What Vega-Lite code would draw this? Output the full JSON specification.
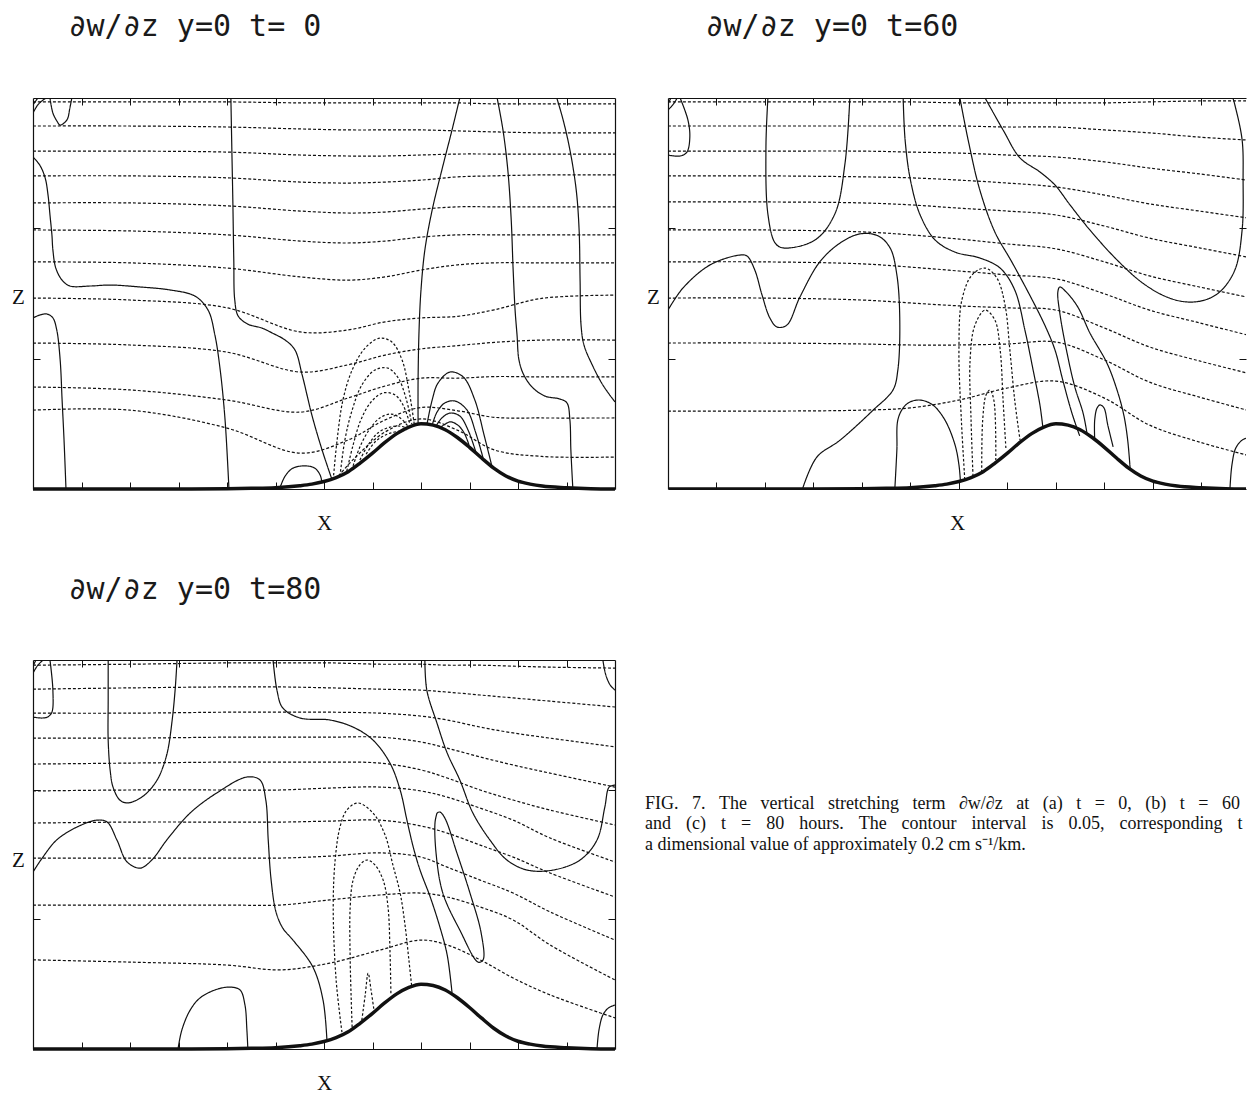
{
"$schema": "https://vega.github.io/schema/vega-lite/v6.json",
"background": "white",
"padding": {"left": 11, "top": 11, "right": 0, "bottom": 0},
"columns": 2,
"bounds": "flush",
"spacing": {"row": 171, "column": 53},
"config": {"view": {"stroke": null}, "axis": {"grid": false, "labels": false, "domainColor": "#111", "tickColor": "#111", "domainWidth": 1.2, "tickWidth": 1}},
"datasets": {
"mtn": [{"x":0,"z":0},{"x":1,"z":0},{"x":2,"z":0},{"x":3,"z":0},{"x":4,"z":0.01},{"x":4.5,"z":0.02},{"x":5,"z":0.04},{"x":5.5,"z":0.1},{"x":5.75,"z":0.15},{"x":6,"z":0.23},{"x":6.25,"z":0.35},{"x":6.5,"z":0.53},{"x":6.75,"z":0.8},{"x":7,"z":1.1},{"x":7.25,"z":1.42},{"x":7.5,"z":1.7},{"x":7.75,"z":1.9},{"x":8,"z":2.0},{"x":8.25,"z":1.96},{"x":8.5,"z":1.82},{"x":8.75,"z":1.58},{"x":9,"z":1.28},{"x":9.25,"z":0.95},{"x":9.5,"z":0.64},{"x":9.75,"z":0.4},{"x":10,"z":0.24},{"x":10.25,"z":0.15},{"x":10.5,"z":0.09},{"x":11,"z":0.04},{"x":11.5,"z":0.01},{"x":12,"z":0}],
"cap": [{"line":1,"text":"\u2003FIG.\u2002\u20057.\u2002\u2005The\u2002\u2005vertical\u2002\u2005stretching\u2002\u2005term\u2002\u2005∂w/∂z\u2002\u2005at\u2002\u2005(a)\u2002\u2005t\u2002\u2005=\u2002\u20050,\u2002\u2005(b)\u2002\u2005t\u2002\u2005=\u2002\u200560"},{"line":2,"text":"and\u2002\u2004(c)\u2002\u2004t\u2002\u2004=\u2002\u200480\u2002\u2004hours.\u2002\u2004The\u2002\u2004contour\u2002\u2004interval\u2002\u2004is\u2002\u20040.05,\u2002\u2004corresponding\u2002\u2004to"},{"line":3,"text":"a dimensional value of approximately 0.2 cm s⁻¹/km."}],
"a": [
{"g":"i1","k":"i","x":0,"z":11.88},{"g":"i1","k":"i","x":2,"z":11.88},{"g":"i1","k":"i","x":4,"z":11.88},{"g":"i1","k":"i","x":5.51,"z":11.85},{"g":"i1","k":"i","x":6.49,"z":11.85},{"g":"i1","k":"i","x":7.26,"z":11.85},{"g":"i1","k":"i","x":8,"z":11.85},{"g":"i1","k":"i","x":8.76,"z":11.85},{"g":"i1","k":"i","x":9.51,"z":11.82},{"g":"i1","k":"i","x":10.49,"z":11.82},{"g":"i1","k":"i","x":12,"z":11.82},
{"g":"i2","k":"i","x":0,"z":11.14},{"g":"i2","k":"i","x":2,"z":11.14},{"g":"i2","k":"i","x":4,"z":11.11},{"g":"i2","k":"i","x":5.51,"z":11.05},{"g":"i2","k":"i","x":6.49,"z":11.02},{"g":"i2","k":"i","x":7.26,"z":11.02},{"g":"i2","k":"i","x":8,"z":11.02},{"g":"i2","k":"i","x":8.76,"z":10.99},{"g":"i2","k":"i","x":9.51,"z":10.96},{"g":"i2","k":"i","x":10.49,"z":10.93},{"g":"i2","k":"i","x":12,"z":10.93},
{"g":"i3","k":"i","x":0,"z":10.37},{"g":"i3","k":"i","x":2,"z":10.37},{"g":"i3","k":"i","x":4,"z":10.34},{"g":"i3","k":"i","x":5.51,"z":10.25},{"g":"i3","k":"i","x":6.49,"z":10.22},{"g":"i3","k":"i","x":7.26,"z":10.22},{"g":"i3","k":"i","x":8,"z":10.25},{"g":"i3","k":"i","x":8.76,"z":10.28},{"g":"i3","k":"i","x":9.51,"z":10.28},{"g":"i3","k":"i","x":10.49,"z":10.28},{"g":"i3","k":"i","x":12,"z":10.28},
{"g":"i4","k":"i","x":0,"z":9.61},{"g":"i4","k":"i","x":2,"z":9.61},{"g":"i4","k":"i","x":4,"z":9.55},{"g":"i4","k":"i","x":5.51,"z":9.42},{"g":"i4","k":"i","x":6.49,"z":9.39},{"g":"i4","k":"i","x":7.26,"z":9.42},{"g":"i4","k":"i","x":8,"z":9.48},{"g":"i4","k":"i","x":8.76,"z":9.58},{"g":"i4","k":"i","x":9.51,"z":9.61},{"g":"i4","k":"i","x":10.49,"z":9.64},{"g":"i4","k":"i","x":12,"z":9.64},
{"g":"i5","k":"i","x":0,"z":8.78},{"g":"i5","k":"i","x":2,"z":8.78},{"g":"i5","k":"i","x":4,"z":8.69},{"g":"i5","k":"i","x":5.51,"z":8.53},{"g":"i5","k":"i","x":6.49,"z":8.47},{"g":"i5","k":"i","x":7.26,"z":8.5},{"g":"i5","k":"i","x":8,"z":8.59},{"g":"i5","k":"i","x":8.76,"z":8.66},{"g":"i5","k":"i","x":9.51,"z":8.66},{"g":"i5","k":"i","x":10.49,"z":8.66},{"g":"i5","k":"i","x":12,"z":8.66},
{"g":"i6","k":"i","x":0,"z":7.95},{"g":"i6","k":"i","x":2,"z":7.92},{"g":"i6","k":"i","x":4,"z":7.8},{"g":"i6","k":"i","x":5.51,"z":7.61},{"g":"i6","k":"i","x":6.49,"z":7.55},{"g":"i6","k":"i","x":7.26,"z":7.61},{"g":"i6","k":"i","x":8,"z":7.73},{"g":"i6","k":"i","x":8.76,"z":7.8},{"g":"i6","k":"i","x":9.51,"z":7.8},{"g":"i6","k":"i","x":10.49,"z":7.8},{"g":"i6","k":"i","x":12,"z":7.8},
{"g":"i7","k":"i","x":0,"z":6.97},{"g":"i7","k":"i","x":2,"z":6.94},{"g":"i7","k":"i","x":4,"z":6.78},{"g":"i7","k":"i","x":5.51,"z":6.51},{"g":"i7","k":"i","x":6.49,"z":6.41},{"g":"i7","k":"i","x":7.26,"z":6.51},{"g":"i7","k":"i","x":8,"z":6.72},{"g":"i7","k":"i","x":8.76,"z":6.88},{"g":"i7","k":"i","x":9.51,"z":6.94},{"g":"i7","k":"i","x":10.49,"z":6.94},{"g":"i7","k":"i","x":12,"z":6.94},
{"g":"i8","k":"i","x":0,"z":5.86},{"g":"i8","k":"i","x":2,"z":5.8},{"g":"i8","k":"i","x":4,"z":5.56},{"g":"i8","k":"i","x":5.51,"z":4.82},{"g":"i8","k":"i","x":6.49,"z":4.88},{"g":"i8","k":"i","x":7.26,"z":5.13},{"g":"i8","k":"i","x":8,"z":5.25},{"g":"i8","k":"i","x":8.76,"z":5.3},{"g":"i8","k":"i","x":9.51,"z":5.5},{"g":"i8","k":"i","x":10.49,"z":5.85},{"g":"i8","k":"i","x":12,"z":5.95},
{"g":"i9","k":"i","x":0,"z":4.48},{"g":"i9","k":"i","x":2,"z":4.42},{"g":"i9","k":"i","x":4,"z":4.2},{"g":"i9","k":"i","x":5.51,"z":3.59},{"g":"i9","k":"i","x":6.49,"z":3.81},{"g":"i9","k":"i","x":7.26,"z":4.11},{"g":"i9","k":"i","x":8,"z":4.3},{"g":"i9","k":"i","x":8.76,"z":4.4},{"g":"i9","k":"i","x":9.51,"z":4.5},{"g":"i9","k":"i","x":10.49,"z":4.57},{"g":"i9","k":"i","x":12,"z":4.57},
{"g":"i10","k":"i","x":0,"z":3.13},{"g":"i10","k":"i","x":2,"z":3.04},{"g":"i10","k":"i","x":4,"z":2.73},{"g":"i10","k":"i","x":5.51,"z":2.36},{"g":"i10","k":"i","x":6.49,"z":2.79},{"g":"i10","k":"i","x":7.26,"z":3.16},{"g":"i10","k":"i","x":8,"z":3.4},{"g":"i10","k":"i","x":8.76,"z":3.4},{"g":"i10","k":"i","x":9.51,"z":3.45},{"g":"i10","k":"i","x":10.49,"z":3.44},{"g":"i10","k":"i","x":12,"z":3.44},
{"g":"i11","k":"i","x":0,"z":2.42},{"g":"i11","k":"i","x":2,"z":2.42},{"g":"i11","k":"i","x":4,"z":1.87},{"g":"i11","k":"i","x":5.51,"z":1.1},{"g":"i11","k":"i","x":6.49,"z":1.5},{"g":"i11","k":"i","x":7.26,"z":2.12},{"g":"i11","k":"i","x":8,"z":2.5},{"g":"i11","k":"i","x":8.76,"z":2.4},{"g":"i11","k":"i","x":9.51,"z":2.2},{"g":"i11","k":"i","x":10.49,"z":2.18},{"g":"i11","k":"i","x":12,"z":2.18},
{"g":"i12","k":"i","x":6.3,"z":0.4},{"g":"i12","k":"i","x":6.6,"z":0.9},{"g":"i12","k":"i","x":7.26,"z":1.75},{"g":"i12","k":"i","x":8,"z":2.15},{"g":"i12","k":"i","x":8.76,"z":1.8},{"g":"i12","k":"i","x":9.51,"z":1.2},{"g":"i12","k":"i","x":10.49,"z":1.0},{"g":"i12","k":"i","x":12,"z":0.98},
{"g":"s1","k":"s","x":0,"z":11.79},{"g":"s1","k":"s","x":0.1,"z":12},
{"g":"s2","k":"s","x":0,"z":11.54},{"g":"s2","k":"s","x":0.1,"z":11.79},{"g":"s2","k":"s","x":0.21,"z":11.94},{"g":"s2","k":"s","x":0.27,"z":12},
{"g":"s3","k":"s","x":0.35,"z":12},{"g":"s3","k":"s","x":0.41,"z":11.54},{"g":"s3","k":"s","x":0.49,"z":11.3},{"g":"s3","k":"s","x":0.56,"z":11.17},{"g":"s3","k":"s","x":0.7,"z":11.33},{"g":"s3","k":"s","x":0.76,"z":11.69},{"g":"s3","k":"s","x":0.8,"z":12},
{"g":"s4","k":"s","x":0,"z":10.19},{"g":"s4","k":"s","x":0.14,"z":9.94},{"g":"s4","k":"s","x":0.25,"z":9.55},{"g":"s4","k":"s","x":0.31,"z":9.02},{"g":"s4","k":"s","x":0.35,"z":8.41},{"g":"s4","k":"s","x":0.39,"z":7.8},{"g":"s4","k":"s","x":0.41,"z":7.34},{"g":"s4","k":"s","x":0.47,"z":6.78},{"g":"s4","k":"s","x":0.6,"z":6.41},{"g":"s4","k":"s","x":0.76,"z":6.23},{"g":"s4","k":"s","x":1.18,"z":6.23},{"g":"s4","k":"s","x":1.59,"z":6.26},{"g":"s4","k":"s","x":2.21,"z":6.2},{"g":"s4","k":"s","x":2.82,"z":6.11},{"g":"s4","k":"s","x":3.34,"z":5.92},{"g":"s4","k":"s","x":3.61,"z":5.49},{"g":"s4","k":"s","x":3.75,"z":4.73},{"g":"s4","k":"s","x":3.86,"z":3.65},{"g":"s4","k":"s","x":3.96,"z":2.12},{"g":"s4","k":"s","x":4.04,"z":0},
{"g":"s5","k":"s","x":4.08,"z":12},{"g":"s5","k":"s","x":4.1,"z":10.41},{"g":"s5","k":"s","x":4.12,"z":8.87},{"g":"s5","k":"s","x":4.14,"z":7.03},{"g":"s5","k":"s","x":4.16,"z":5.8},{"g":"s5","k":"s","x":4.23,"z":5.31},{"g":"s5","k":"s","x":4.43,"z":5.06},{"g":"s5","k":"s","x":4.72,"z":4.94},{"g":"s5","k":"s","x":4.93,"z":4.79},{"g":"s5","k":"s","x":5.2,"z":4.57},{"g":"s5","k":"s","x":5.4,"z":4.27},{"g":"s5","k":"s","x":5.55,"z":3.5},{"g":"s5","k":"s","x":5.75,"z":2.27},{"g":"s5","k":"s","x":5.96,"z":1.2},{"g":"s5","k":"s","x":6.16,"z":0.31},
{"g":"s6","k":"s","x":0,"z":5.25},{"g":"s6","k":"s","x":0.14,"z":5.34},{"g":"s6","k":"s","x":0.29,"z":5.37},{"g":"s6","k":"s","x":0.41,"z":5.25},{"g":"s6","k":"s","x":0.49,"z":4.88},{"g":"s6","k":"s","x":0.56,"z":3.96},{"g":"s6","k":"s","x":0.6,"z":2.73},{"g":"s6","k":"s","x":0.64,"z":1.5},{"g":"s6","k":"s","x":0.68,"z":0},
{"g":"s7","k":"s","x":5.09,"z":0.03},{"g":"s7","k":"s","x":5.2,"z":0.4},{"g":"s7","k":"s","x":5.36,"z":0.64},{"g":"s7","k":"s","x":5.61,"z":0.71},{"g":"s7","k":"s","x":5.81,"z":0.64},{"g":"s7","k":"s","x":5.92,"z":0.43},{"g":"s7","k":"s","x":5.96,"z":0.18},
{"g":"s8","k":"s","x":8.8,"z":12},{"g":"s8","k":"s","x":8.64,"z":11.02},{"g":"s8","k":"s","x":8.43,"z":9.79},{"g":"s8","k":"s","x":8.23,"z":8.56},{"g":"s8","k":"s","x":8.08,"z":7.34},{"g":"s8","k":"s","x":8.0,"z":6.11},{"g":"s8","k":"s","x":7.96,"z":4.88},{"g":"s8","k":"s","x":7.94,"z":3.35},{"g":"s8","k":"s","x":7.94,"z":2.0},
{"g":"s9","k":"s","x":9.57,"z":12},{"g":"s9","k":"s","x":9.69,"z":11.02},{"g":"s9","k":"s","x":9.79,"z":9.79},{"g":"s9","k":"s","x":9.86,"z":8.26},{"g":"s9","k":"s","x":9.9,"z":6.72},{"g":"s9","k":"s","x":9.94,"z":5.49},{"g":"s9","k":"s","x":9.98,"z":4.73},{"g":"s9","k":"s","x":10.02,"z":3.96},{"g":"s9","k":"s","x":10.12,"z":3.5},{"g":"s9","k":"s","x":10.31,"z":3.1},{"g":"s9","k":"s","x":10.56,"z":2.85},{"g":"s9","k":"s","x":10.87,"z":2.76},{"g":"s9","k":"s","x":11.01,"z":2.64},{"g":"s9","k":"s","x":11.07,"z":2.12},{"g":"s9","k":"s","x":11.09,"z":1.2},{"g":"s9","k":"s","x":11.13,"z":0.03},
{"g":"s10","k":"s","x":10.8,"z":12},{"g":"s10","k":"s","x":10.93,"z":11.33},{"g":"s10","k":"s","x":11.07,"z":10.41},{"g":"s10","k":"s","x":11.2,"z":9.18},{"g":"s10","k":"s","x":11.26,"z":7.95},{"g":"s10","k":"s","x":11.28,"z":6.41},{"g":"s10","k":"s","x":11.3,"z":5.03},{"g":"s10","k":"s","x":11.36,"z":4.42},{"g":"s10","k":"s","x":11.53,"z":3.81},{"g":"s10","k":"s","x":11.75,"z":3.19},{"g":"s10","k":"s","x":12,"z":2.67},
{"g":"l1","k":"s","x":8.12,"z":1.96},{"g":"l1","k":"s","x":8.23,"z":2.73},{"g":"l1","k":"s","x":8.35,"z":3.25},{"g":"l1","k":"s","x":8.6,"z":3.59},{"g":"l1","k":"s","x":8.87,"z":3.44},{"g":"l1","k":"s","x":9.11,"z":2.73},{"g":"l1","k":"s","x":9.3,"z":1.66},{"g":"l1","k":"s","x":9.46,"z":0.71},
{"g":"l2","k":"s","x":8.23,"z":1.96},{"g":"l2","k":"s","x":8.33,"z":2.36},{"g":"l2","k":"s","x":8.49,"z":2.64},{"g":"l2","k":"s","x":8.7,"z":2.7},{"g":"l2","k":"s","x":8.95,"z":2.42},{"g":"l2","k":"s","x":9.13,"z":1.72},{"g":"l2","k":"s","x":9.28,"z":0.95},
{"g":"l3","k":"s","x":8.31,"z":1.93},{"g":"l3","k":"s","x":8.43,"z":2.18},{"g":"l3","k":"s","x":8.6,"z":2.33},{"g":"l3","k":"s","x":8.8,"z":2.24},{"g":"l3","k":"s","x":8.97,"z":1.81},{"g":"l3","k":"s","x":9.13,"z":1.14},
{"g":"l4","k":"s","x":8.41,"z":1.9},{"g":"l4","k":"s","x":8.6,"z":2.06},{"g":"l4","k":"s","x":8.76,"z":1.96},{"g":"l4","k":"s","x":8.89,"z":1.72},{"g":"l4","k":"s","x":8.99,"z":1.35},
{"g":"d1","k":"d","x":6.19,"z":0.28},{"g":"d1","k":"d","x":6.27,"z":1.5},{"g":"d1","k":"d","x":6.39,"z":2.73},{"g":"d1","k":"d","x":6.58,"z":3.65},{"g":"d1","k":"d","x":6.85,"z":4.33},{"g":"d1","k":"d","x":7.15,"z":4.63},{"g":"d1","k":"d","x":7.4,"z":4.51},{"g":"d1","k":"d","x":7.61,"z":3.96},{"g":"d1","k":"d","x":7.75,"z":3.04},{"g":"d1","k":"d","x":7.86,"z":2.0},
{"g":"d2","k":"d","x":6.33,"z":0.4},{"g":"d2","k":"d","x":6.43,"z":1.5},{"g":"d2","k":"d","x":6.58,"z":2.42},{"g":"d2","k":"d","x":6.78,"z":3.19},{"g":"d2","k":"d","x":7.05,"z":3.65},{"g":"d2","k":"d","x":7.32,"z":3.71},{"g":"d2","k":"d","x":7.53,"z":3.41},{"g":"d2","k":"d","x":7.69,"z":2.79},{"g":"d2","k":"d","x":7.81,"z":2.0},
{"g":"d3","k":"d","x":6.47,"z":0.55},{"g":"d3","k":"d","x":6.6,"z":1.35},{"g":"d3","k":"d","x":6.76,"z":2.12},{"g":"d3","k":"d","x":6.97,"z":2.67},{"g":"d3","k":"d","x":7.22,"z":2.95},{"g":"d3","k":"d","x":7.46,"z":2.89},{"g":"d3","k":"d","x":7.63,"z":2.58},{"g":"d3","k":"d","x":7.77,"z":2.0},
{"g":"d4","k":"d","x":6.6,"z":0.71},{"g":"d4","k":"d","x":6.74,"z":1.29},{"g":"d4","k":"d","x":6.93,"z":1.81},{"g":"d4","k":"d","x":7.15,"z":2.18},{"g":"d4","k":"d","x":7.38,"z":2.3},{"g":"d4","k":"d","x":7.57,"z":2.18},{"g":"d4","k":"d","x":7.73,"z":1.93},
{"g":"d5","k":"d","x":6.74,"z":0.89},{"g":"d5","k":"d","x":6.91,"z":1.35},{"g":"d5","k":"d","x":7.11,"z":1.72},{"g":"d5","k":"d","x":7.36,"z":1.9},{"g":"d5","k":"d","x":7.57,"z":1.93},{"g":"d5","k":"d","x":7.71,"z":1.87},
{"g":"d6","k":"d","x":6.87,"z":1.07},{"g":"d6","k":"d","x":7.07,"z":1.47},{"g":"d6","k":"d","x":7.32,"z":1.69},{"g":"d6","k":"d","x":7.57,"z":1.78},{"g":"d6","k":"d","x":7.71,"z":1.81}
],
"b": [
{"g":"i1","k":"i","x":0,"z":11.88},{"g":"i1","k":"i","x":2,"z":11.88},{"g":"i1","k":"i","x":4,"z":11.88},{"g":"i1","k":"i","x":5,"z":11.88},{"g":"i1","k":"i","x":6,"z":11.85},{"g":"i1","k":"i","x":7,"z":11.85},{"g":"i1","k":"i","x":8,"z":11.85},{"g":"i1","k":"i","x":9,"z":11.85},{"g":"i1","k":"i","x":9.93,"z":11.88},{"g":"i1","k":"i","x":10.96,"z":11.91},{"g":"i1","k":"i","x":11.94,"z":11.91},
{"g":"i2","k":"i","x":0,"z":11.14},{"g":"i2","k":"i","x":2,"z":11.14},{"g":"i2","k":"i","x":4,"z":11.14},{"g":"i2","k":"i","x":5,"z":11.14},{"g":"i2","k":"i","x":6,"z":11.14},{"g":"i2","k":"i","x":7,"z":11.11},{"g":"i2","k":"i","x":8,"z":11.11},{"g":"i2","k":"i","x":9,"z":11.02},{"g":"i2","k":"i","x":9.93,"z":10.93},{"g":"i2","k":"i","x":10.96,"z":10.8},{"g":"i2","k":"i","x":11.94,"z":10.71},
{"g":"i3","k":"i","x":0,"z":10.37},{"g":"i3","k":"i","x":2,"z":10.37},{"g":"i3","k":"i","x":4,"z":10.37},{"g":"i3","k":"i","x":5,"z":10.34},{"g":"i3","k":"i","x":6,"z":10.31},{"g":"i3","k":"i","x":7,"z":10.25},{"g":"i3","k":"i","x":8,"z":10.19},{"g":"i3","k":"i","x":9,"z":10.04},{"g":"i3","k":"i","x":9.93,"z":9.85},{"g":"i3","k":"i","x":10.96,"z":9.67},{"g":"i3","k":"i","x":11.94,"z":9.48},
{"g":"i4","k":"i","x":0,"z":9.61},{"g":"i4","k":"i","x":2,"z":9.61},{"g":"i4","k":"i","x":4,"z":9.58},{"g":"i4","k":"i","x":5,"z":9.55},{"g":"i4","k":"i","x":6,"z":9.48},{"g":"i4","k":"i","x":7,"z":9.39},{"g":"i4","k":"i","x":8,"z":9.27},{"g":"i4","k":"i","x":9,"z":9.02},{"g":"i4","k":"i","x":9.93,"z":8.75},{"g":"i4","k":"i","x":10.96,"z":8.53},{"g":"i4","k":"i","x":11.94,"z":8.32},
{"g":"i5","k":"i","x":0,"z":8.81},{"g":"i5","k":"i","x":2,"z":8.81},{"g":"i5","k":"i","x":4,"z":8.78},{"g":"i5","k":"i","x":5,"z":8.72},{"g":"i5","k":"i","x":6,"z":8.62},{"g":"i5","k":"i","x":7,"z":8.53},{"g":"i5","k":"i","x":8,"z":8.41},{"g":"i5","k":"i","x":9,"z":8.07},{"g":"i5","k":"i","x":9.93,"z":7.7},{"g":"i5","k":"i","x":10.96,"z":7.4},{"g":"i5","k":"i","x":11.94,"z":7.12},
{"g":"i6","k":"i","x":0,"z":7.95},{"g":"i6","k":"i","x":2,"z":7.95},{"g":"i6","k":"i","x":4,"z":7.89},{"g":"i6","k":"i","x":5,"z":7.8},{"g":"i6","k":"i","x":6,"z":7.67},{"g":"i6","k":"i","x":7,"z":7.52},{"g":"i6","k":"i","x":8,"z":7.37},{"g":"i6","k":"i","x":9,"z":6.97},{"g":"i6","k":"i","x":9.93,"z":6.54},{"g":"i6","k":"i","x":10.96,"z":6.2},{"g":"i6","k":"i","x":11.94,"z":5.89},
{"g":"i7","k":"i","x":0,"z":6.97},{"g":"i7","k":"i","x":2,"z":6.97},{"g":"i7","k":"i","x":4,"z":6.91},{"g":"i7","k":"i","x":5,"z":6.81},{"g":"i7","k":"i","x":6,"z":6.69},{"g":"i7","k":"i","x":7,"z":6.57},{"g":"i7","k":"i","x":8,"z":6.45},{"g":"i7","k":"i","x":9,"z":5.99},{"g":"i7","k":"i","x":9.93,"z":5.49},{"g":"i7","k":"i","x":10.96,"z":5.1},{"g":"i7","k":"i","x":11.94,"z":4.73},
{"g":"i8","k":"i","x":0,"z":5.86},{"g":"i8","k":"i","x":2,"z":5.86},{"g":"i8","k":"i","x":4,"z":5.8},{"g":"i8","k":"i","x":5,"z":5.71},{"g":"i8","k":"i","x":6,"z":5.62},{"g":"i8","k":"i","x":7,"z":5.56},{"g":"i8","k":"i","x":8,"z":5.49},{"g":"i8","k":"i","x":9,"z":4.94},{"g":"i8","k":"i","x":9.93,"z":4.36},{"g":"i8","k":"i","x":10.96,"z":3.93},{"g":"i8","k":"i","x":11.94,"z":3.56},
{"g":"i9","k":"i","x":0,"z":4.48},{"g":"i9","k":"i","x":2,"z":4.48},{"g":"i9","k":"i","x":4,"z":4.45},{"g":"i9","k":"i","x":5,"z":4.42},{"g":"i9","k":"i","x":6,"z":4.42},{"g":"i9","k":"i","x":7,"z":4.45},{"g":"i9","k":"i","x":8,"z":4.51},{"g":"i9","k":"i","x":9,"z":3.96},{"g":"i9","k":"i","x":9.93,"z":3.28},{"g":"i9","k":"i","x":10.96,"z":2.82},{"g":"i9","k":"i","x":11.94,"z":2.42},
{"g":"i10","k":"i","x":0,"z":2.39},{"g":"i10","k":"i","x":2,"z":2.39},{"g":"i10","k":"i","x":4,"z":2.42},{"g":"i10","k":"i","x":5,"z":2.49},{"g":"i10","k":"i","x":6,"z":2.73},{"g":"i10","k":"i","x":7,"z":3.1},{"g":"i10","k":"i","x":8,"z":3.31},{"g":"i10","k":"i","x":9,"z":2.79},{"g":"i10","k":"i","x":9.93,"z":1.96},{"g":"i10","k":"i","x":10.96,"z":1.44},{"g":"i10","k":"i","x":11.94,"z":1.04},
{"g":"c1","k":"s","x":0,"z":11.82},{"g":"c1","k":"s","x":0.06,"z":12},
{"g":"c2","k":"s","x":0,"z":11.63},{"g":"c2","k":"s","x":0.1,"z":11.79},{"g":"c2","k":"s","x":0.19,"z":12},
{"g":"c3","k":"s","x":0.25,"z":12},{"g":"c3","k":"s","x":0.41,"z":11.33},{"g":"c3","k":"s","x":0.45,"z":10.8},{"g":"c3","k":"s","x":0.39,"z":10.34},{"g":"c3","k":"s","x":0.25,"z":10.22},{"g":"c3","k":"s","x":0,"z":10.25},
{"g":"c4","k":"s","x":2.06,"z":12},{"g":"c4","k":"s","x":2.02,"z":10.5},{"g":"c4","k":"s","x":2.06,"z":8.44},{"g":"c4","k":"s","x":2.21,"z":7.55},{"g":"c4","k":"s","x":2.37,"z":7.4},{"g":"c4","k":"s","x":3.03,"z":7.64},{"g":"c4","k":"s","x":3.44,"z":8.44},{"g":"c4","k":"s","x":3.65,"z":9.99},{"g":"c4","k":"s","x":3.75,"z":12},
{"g":"c5","k":"s","x":0,"z":5.49},{"g":"c5","k":"s","x":0.31,"z":6.17},{"g":"c5","k":"s","x":0.87,"z":6.88},{"g":"c5","k":"s","x":1.48,"z":7.18},{"g":"c5","k":"s","x":1.63,"z":7.15},{"g":"c5","k":"s","x":1.79,"z":6.72},{"g":"c5","k":"s","x":1.94,"z":5.95},{"g":"c5","k":"s","x":2.1,"z":5.25},{"g":"c5","k":"s","x":2.25,"z":4.97},{"g":"c5","k":"s","x":2.45,"z":5.03},{"g":"c5","k":"s","x":2.72,"z":5.89},{"g":"c5","k":"s","x":3.13,"z":6.97},{"g":"c5","k":"s","x":3.55,"z":7.55},{"g":"c5","k":"s","x":3.96,"z":7.83},{"g":"c5","k":"s","x":4.33,"z":7.77},{"g":"c5","k":"s","x":4.58,"z":7.4},{"g":"c5","k":"s","x":4.72,"z":6.57},{"g":"c5","k":"s","x":4.78,"z":5.19},{"g":"c5","k":"s","x":4.74,"z":3.65},{"g":"c5","k":"s","x":4.64,"z":3.04},{"g":"c5","k":"s","x":4.23,"z":2.42},{"g":"c5","k":"s","x":3.55,"z":1.5},{"g":"c5","k":"s","x":3.07,"z":0.98},{"g":"c5","k":"s","x":2.78,"z":0.03},
{"g":"c6","k":"s","x":4.68,"z":0.06},{"g":"c6","k":"s","x":4.72,"z":1.2},{"g":"c6","k":"s","x":4.74,"z":2.12},{"g":"c6","k":"s","x":4.85,"z":2.49},{"g":"c6","k":"s","x":4.99,"z":2.67},{"g":"c6","k":"s","x":5.2,"z":2.73},{"g":"c6","k":"s","x":5.46,"z":2.58},{"g":"c6","k":"s","x":5.71,"z":2.12},{"g":"c6","k":"s","x":5.92,"z":1.35},{"g":"c6","k":"s","x":6.0,"z":0.74},{"g":"c6","k":"s","x":6.03,"z":0.25},
{"g":"c7","k":"s","x":4.85,"z":12},{"g":"c7","k":"s","x":4.89,"z":10.71},{"g":"c7","k":"s","x":5.0,"z":9.48},{"g":"c7","k":"s","x":5.2,"z":8.41},{"g":"c7","k":"s","x":5.51,"z":7.64},{"g":"c7","k":"s","x":5.92,"z":7.27},{"g":"c7","k":"s","x":6.43,"z":7.09},{"g":"c7","k":"s","x":6.85,"z":6.78},{"g":"c7","k":"s","x":7.15,"z":6.11},{"g":"c7","k":"s","x":7.36,"z":4.88},{"g":"c7","k":"s","x":7.53,"z":3.65},{"g":"c7","k":"s","x":7.67,"z":2.58},{"g":"c7","k":"s","x":7.73,"z":1.9},
{"g":"c8","k":"s","x":6.02,"z":12},{"g":"c8","k":"s","x":6.19,"z":10.71},{"g":"c8","k":"s","x":6.43,"z":9.18},{"g":"c8","k":"s","x":6.74,"z":7.89},{"g":"c8","k":"s","x":7.09,"z":6.97},{"g":"c8","k":"s","x":7.46,"z":5.95},{"g":"c8","k":"s","x":7.77,"z":5.03},{"g":"c8","k":"s","x":7.98,"z":4.27},{"g":"c8","k":"s","x":8.14,"z":3.35},{"g":"c8","k":"s","x":8.33,"z":2.33},{"g":"c8","k":"s","x":8.49,"z":1.63},
{"g":"c9","k":"s","x":8.64,"z":1.72},{"g":"c9","k":"s","x":8.56,"z":2.33},{"g":"c9","k":"s","x":8.39,"z":3.13},{"g":"c9","k":"s","x":8.23,"z":4.17},{"g":"c9","k":"s","x":8.08,"z":5.4},{"g":"c9","k":"s","x":8.04,"z":6.05},{"g":"c9","k":"s","x":8.08,"z":6.2},{"g":"c9","k":"s","x":8.21,"z":6.05},{"g":"c9","k":"s","x":8.45,"z":5.59},{"g":"c9","k":"s","x":8.7,"z":4.79},{"g":"c9","k":"s","x":9.05,"z":3.87},{"g":"c9","k":"s","x":9.26,"z":3.04},{"g":"c9","k":"s","x":9.4,"z":2.27},{"g":"c9","k":"s","x":9.48,"z":1.5},{"g":"c9","k":"s","x":9.53,"z":0.64},
{"g":"c10","k":"s","x":8.8,"z":1.5},{"g":"c10","k":"s","x":8.8,"z":2.12},{"g":"c10","k":"s","x":8.85,"z":2.49},{"g":"c10","k":"s","x":8.91,"z":2.58},{"g":"c10","k":"s","x":8.99,"z":2.49},{"g":"c10","k":"s","x":9.07,"z":1.96},{"g":"c10","k":"s","x":9.18,"z":1.29},
{"g":"c11","k":"s","x":6.54,"z":12},{"g":"c11","k":"s","x":6.91,"z":11.02},{"g":"c11","k":"s","x":7.26,"z":10.16},{"g":"c11","k":"s","x":7.67,"z":9.73},{"g":"c11","k":"s","x":7.98,"z":9.33},{"g":"c11","k":"s","x":8.29,"z":8.72},{"g":"c11","k":"s","x":8.7,"z":7.95},{"g":"c11","k":"s","x":9.26,"z":7.03},{"g":"c11","k":"s","x":9.79,"z":6.32},{"g":"c11","k":"s","x":10.29,"z":5.89},{"g":"c11","k":"s","x":10.7,"z":5.74},{"g":"c11","k":"s","x":11.07,"z":5.8},{"g":"c11","k":"s","x":11.38,"z":6.05},{"g":"c11","k":"s","x":11.69,"z":6.72},{"g":"c11","k":"s","x":11.84,"z":7.95},{"g":"c11","k":"s","x":11.86,"z":9.48},{"g":"c11","k":"s","x":11.84,"z":10.71},{"g":"c11","k":"s","x":11.69,"z":11.79},{"g":"c11","k":"s","x":11.65,"z":12},
{"g":"c12","k":"s","x":11.59,"z":0.03},{"g":"c12","k":"s","x":11.63,"z":0.74},{"g":"c12","k":"s","x":11.71,"z":1.26},{"g":"c12","k":"s","x":11.84,"z":1.5},{"g":"c12","k":"s","x":11.94,"z":1.57},
{"g":"e1","k":"d","x":6.12,"z":0.3},{"g":"e1","k":"d","x":6.05,"z":2.12},{"g":"e1","k":"d","x":6.0,"z":4.27},{"g":"e1","k":"d","x":6.06,"z":5.8},{"g":"e1","k":"d","x":6.27,"z":6.57},{"g":"e1","k":"d","x":6.54,"z":6.78},{"g":"e1","k":"d","x":6.78,"z":6.48},{"g":"e1","k":"d","x":6.95,"z":5.65},{"g":"e1","k":"d","x":7.05,"z":4.27},{"g":"e1","k":"d","x":7.15,"z":2.73},{"g":"e1","k":"d","x":7.26,"z":1.5},
{"g":"e2","k":"d","x":6.29,"z":0.4},{"g":"e2","k":"d","x":6.25,"z":2.12},{"g":"e2","k":"d","x":6.23,"z":3.96},{"g":"e2","k":"d","x":6.33,"z":5.03},{"g":"e2","k":"d","x":6.54,"z":5.49},{"g":"e2","k":"d","x":6.74,"z":5.19},{"g":"e2","k":"d","x":6.85,"z":4.27},{"g":"e2","k":"d","x":6.91,"z":2.73},{"g":"e2","k":"d","x":6.97,"z":1.2},
{"g":"e3","k":"d","x":6.47,"z":0.52},{"g":"e3","k":"d","x":6.49,"z":2.12},{"g":"e3","k":"d","x":6.56,"z":2.89},{"g":"e3","k":"d","x":6.64,"z":3.04},{"g":"e3","k":"d","x":6.72,"z":2.73},{"g":"e3","k":"d","x":6.76,"z":0.89}
],
"c": [
{"g":"i1","k":"i","x":0,"z":11.84},{"g":"i1","k":"i","x":2,"z":11.87},{"g":"i1","k":"i","x":4,"z":11.91},{"g":"i1","k":"i","x":5.09,"z":11.91},{"g":"i1","k":"i","x":6.12,"z":11.91},{"g":"i1","k":"i","x":7.15,"z":11.87},{"g":"i1","k":"i","x":8,"z":11.87},{"g":"i1","k":"i","x":8.54,"z":11.84},{"g":"i1","k":"i","x":9.22,"z":11.84},{"g":"i1","k":"i","x":9.9,"z":11.81},{"g":"i1","k":"i","x":10.66,"z":11.78},{"g":"i1","k":"i","x":12,"z":11.75},
{"g":"i2","k":"i","x":0,"z":11.1},{"g":"i2","k":"i","x":2,"z":11.14},{"g":"i2","k":"i","x":4,"z":11.17},{"g":"i2","k":"i","x":5.09,"z":11.17},{"g":"i2","k":"i","x":6.12,"z":11.14},{"g":"i2","k":"i","x":7.15,"z":11.1},{"g":"i2","k":"i","x":8,"z":11.07},{"g":"i2","k":"i","x":8.54,"z":11.01},{"g":"i2","k":"i","x":9.22,"z":10.92},{"g":"i2","k":"i","x":9.9,"z":10.83},{"g":"i2","k":"i","x":10.66,"z":10.73},{"g":"i2","k":"i","x":12,"z":10.55},
{"g":"i3","k":"i","x":0,"z":10.36},{"g":"i3","k":"i","x":2,"z":10.36},{"g":"i3","k":"i","x":4,"z":10.39},{"g":"i3","k":"i","x":5.09,"z":10.39},{"g":"i3","k":"i","x":6.12,"z":10.39},{"g":"i3","k":"i","x":7.15,"z":10.36},{"g":"i3","k":"i","x":8,"z":10.27},{"g":"i3","k":"i","x":8.54,"z":10.15},{"g":"i3","k":"i","x":9.22,"z":9.93},{"g":"i3","k":"i","x":9.9,"z":9.75},{"g":"i3","k":"i","x":10.66,"z":9.59},{"g":"i3","k":"i","x":12,"z":9.32},
{"g":"i4","k":"i","x":0,"z":9.59},{"g":"i4","k":"i","x":2,"z":9.59},{"g":"i4","k":"i","x":4,"z":9.62},{"g":"i4","k":"i","x":5.09,"z":9.62},{"g":"i4","k":"i","x":6.12,"z":9.62},{"g":"i4","k":"i","x":7.15,"z":9.62},{"g":"i4","k":"i","x":8,"z":9.47},{"g":"i4","k":"i","x":8.54,"z":9.28},{"g":"i4","k":"i","x":9.22,"z":9.01},{"g":"i4","k":"i","x":9.9,"z":8.76},{"g":"i4","k":"i","x":10.66,"z":8.51},{"g":"i4","k":"i","x":12,"z":8.08},
{"g":"i5","k":"i","x":0,"z":8.79},{"g":"i5","k":"i","x":2,"z":8.82},{"g":"i5","k":"i","x":4,"z":8.85},{"g":"i5","k":"i","x":5.09,"z":8.85},{"g":"i5","k":"i","x":6.12,"z":8.85},{"g":"i5","k":"i","x":7.15,"z":8.82},{"g":"i5","k":"i","x":8,"z":8.61},{"g":"i5","k":"i","x":8.54,"z":8.36},{"g":"i5","k":"i","x":9.22,"z":7.99},{"g":"i5","k":"i","x":9.9,"z":7.68},{"g":"i5","k":"i","x":10.66,"z":7.37},{"g":"i5","k":"i","x":12,"z":6.91},
{"g":"i6","k":"i","x":0,"z":7.96},{"g":"i6","k":"i","x":2,"z":7.99},{"g":"i6","k":"i","x":4,"z":7.99},{"g":"i6","k":"i","x":5.09,"z":7.99},{"g":"i6","k":"i","x":6.12,"z":8.05},{"g":"i6","k":"i","x":7.15,"z":8.08},{"g":"i6","k":"i","x":8,"z":7.96},{"g":"i6","k":"i","x":8.54,"z":7.77},{"g":"i6","k":"i","x":9.22,"z":7.43},{"g":"i6","k":"i","x":9.9,"z":7.06},{"g":"i6","k":"i","x":10.66,"z":6.51},{"g":"i6","k":"i","x":12,"z":5.77},
{"g":"i7","k":"i","x":0,"z":6.97},{"g":"i7","k":"i","x":2,"z":7.0},{"g":"i7","k":"i","x":4,"z":7.0},{"g":"i7","k":"i","x":5.09,"z":7.0},{"g":"i7","k":"i","x":6.12,"z":7.03},{"g":"i7","k":"i","x":7.15,"z":7.06},{"g":"i7","k":"i","x":8,"z":6.88},{"g":"i7","k":"i","x":8.54,"z":6.66},{"g":"i7","k":"i","x":9.22,"z":6.29},{"g":"i7","k":"i","x":9.9,"z":5.92},{"g":"i7","k":"i","x":10.66,"z":5.43},{"g":"i7","k":"i","x":12,"z":4.69},
{"g":"i8","k":"i","x":0,"z":5.89},{"g":"i8","k":"i","x":2,"z":5.89},{"g":"i8","k":"i","x":4,"z":5.89},{"g":"i8","k":"i","x":5.09,"z":5.89},{"g":"i8","k":"i","x":6.12,"z":5.95},{"g":"i8","k":"i","x":7.15,"z":6.05},{"g":"i8","k":"i","x":8,"z":5.92},{"g":"i8","k":"i","x":8.54,"z":5.61},{"g":"i8","k":"i","x":9.22,"z":5.21},{"g":"i8","k":"i","x":9.9,"z":4.81},{"g":"i8","k":"i","x":10.66,"z":4.23},{"g":"i8","k":"i","x":12,"z":3.36},
{"g":"i9","k":"i","x":0,"z":4.44},{"g":"i9","k":"i","x":2,"z":4.44},{"g":"i9","k":"i","x":4,"z":4.44},{"g":"i9","k":"i","x":5.09,"z":4.44},{"g":"i9","k":"i","x":6.12,"z":4.6},{"g":"i9","k":"i","x":7.15,"z":4.75},{"g":"i9","k":"i","x":8,"z":4.81},{"g":"i9","k":"i","x":8.54,"z":4.69},{"g":"i9","k":"i","x":9.22,"z":4.38},{"g":"i9","k":"i","x":9.9,"z":3.98},{"g":"i9","k":"i","x":10.66,"z":3.21},{"g":"i9","k":"i","x":12,"z":2.13},
{"g":"i10","k":"i","x":0,"z":2.75},{"g":"i10","k":"i","x":2,"z":2.68},{"g":"i10","k":"i","x":4,"z":2.59},{"g":"i10","k":"i","x":5.09,"z":2.44},{"g":"i10","k":"i","x":6.12,"z":2.65},{"g":"i10","k":"i","x":7.15,"z":3.05},{"g":"i10","k":"i","x":8,"z":3.36},{"g":"i10","k":"i","x":8.54,"z":3.21},{"g":"i10","k":"i","x":9.22,"z":2.75},{"g":"i10","k":"i","x":9.9,"z":2.19},{"g":"i10","k":"i","x":10.66,"z":1.67},{"g":"i10","k":"i","x":12,"z":0.96},
{"g":"f1","k":"s","x":0,"z":11.81},{"g":"f1","k":"s","x":0.06,"z":12},
{"g":"f2","k":"s","x":0,"z":11.6},{"g":"f2","k":"s","x":0.1,"z":11.84},{"g":"f2","k":"s","x":0.21,"z":12},
{"g":"f3","k":"s","x":0.35,"z":12},{"g":"f3","k":"s","x":0.41,"z":11.07},{"g":"f3","k":"s","x":0.39,"z":10.39},{"g":"f3","k":"s","x":0.31,"z":10.25},{"g":"f3","k":"s","x":0.19,"z":10.21},{"g":"f3","k":"s","x":0,"z":10.24},
{"g":"f4","k":"s","x":1.55,"z":12},{"g":"f4","k":"s","x":1.55,"z":10.76},{"g":"f4","k":"s","x":1.55,"z":9.53},{"g":"f4","k":"s","x":1.59,"z":8.61},{"g":"f4","k":"s","x":1.65,"z":8.08},{"g":"f4","k":"s","x":1.79,"z":7.68},{"g":"f4","k":"s","x":1.94,"z":7.59},{"g":"f4","k":"s","x":2.14,"z":7.68},{"g":"f4","k":"s","x":2.35,"z":7.9},{"g":"f4","k":"s","x":2.56,"z":8.3},{"g":"f4","k":"s","x":2.68,"z":8.7},{"g":"f4","k":"s","x":2.78,"z":9.22},{"g":"f4","k":"s","x":2.87,"z":10.15},{"g":"f4","k":"s","x":2.93,"z":11.07},{"g":"f4","k":"s","x":2.97,"z":12},
{"g":"f5","k":"s","x":4.95,"z":12},{"g":"f5","k":"s","x":5.03,"z":11.07},{"g":"f5","k":"s","x":5.15,"z":10.52},{"g":"f5","k":"s","x":5.51,"z":10.21},{"g":"f5","k":"s","x":6.12,"z":10.15},{"g":"f5","k":"s","x":6.6,"z":9.93},{"g":"f5","k":"s","x":7.01,"z":9.53},{"g":"f5","k":"s","x":7.36,"z":8.82},{"g":"f5","k":"s","x":7.57,"z":7.99},{"g":"f5","k":"s","x":7.71,"z":7.06},{"g":"f5","k":"s","x":7.84,"z":6.23},{"g":"f5","k":"s","x":7.98,"z":5.52},{"g":"f5","k":"s","x":8.19,"z":4.69},{"g":"f5","k":"s","x":8.39,"z":3.76},{"g":"f5","k":"s","x":8.54,"z":2.9},{"g":"f5","k":"s","x":8.64,"z":1.73},
{"g":"f6","k":"s","x":8.08,"z":12},{"g":"f6","k":"s","x":8.12,"z":11.07},{"g":"f6","k":"s","x":8.33,"z":10.05},{"g":"f6","k":"s","x":8.54,"z":9.13},{"g":"f6","k":"s","x":8.8,"z":8.3},{"g":"f6","k":"s","x":9.07,"z":7.28},{"g":"f6","k":"s","x":9.42,"z":6.45},{"g":"f6","k":"s","x":9.77,"z":5.83},{"g":"f6","k":"s","x":10.19,"z":5.52},{"g":"f6","k":"s","x":10.72,"z":5.52},{"g":"f6","k":"s","x":11.28,"z":5.83},{"g":"f6","k":"s","x":11.63,"z":6.45},{"g":"f6","k":"s","x":11.79,"z":7.46},{"g":"f6","k":"s","x":11.88,"z":8.08},{"g":"f6","k":"s","x":12,"z":8.14},
{"g":"f7","k":"s","x":11.75,"z":12},{"g":"f7","k":"s","x":11.81,"z":11.54},{"g":"f7","k":"s","x":11.9,"z":11.23},{"g":"f7","k":"s","x":12,"z":11.07},
{"g":"f8","k":"s","x":0,"z":5.46},{"g":"f8","k":"s","x":0.19,"z":5.89},{"g":"f8","k":"s","x":0.49,"z":6.45},{"g":"f8","k":"s","x":0.91,"z":6.85},{"g":"f8","k":"s","x":1.32,"z":7.06},{"g":"f8","k":"s","x":1.53,"z":7.0},{"g":"f8","k":"s","x":1.73,"z":6.45},{"g":"f8","k":"s","x":1.94,"z":5.77},{"g":"f8","k":"s","x":2.21,"z":5.58},{"g":"f8","k":"s","x":2.45,"z":5.83},{"g":"f8","k":"s","x":2.76,"z":6.45},{"g":"f8","k":"s","x":3.24,"z":7.28},{"g":"f8","k":"s","x":3.79,"z":7.9},{"g":"f8","k":"s","x":4.41,"z":8.39},{"g":"f8","k":"s","x":4.68,"z":8.3},{"g":"f8","k":"s","x":4.8,"z":7.68},{"g":"f8","k":"s","x":4.85,"z":6.45},{"g":"f8","k":"s","x":4.91,"z":5.21},{"g":"f8","k":"s","x":5.01,"z":4.23},{"g":"f8","k":"s","x":5.15,"z":3.73},{"g":"f8","k":"s","x":5.36,"z":3.36},{"g":"f8","k":"s","x":5.77,"z":2.53},{"g":"f8","k":"s","x":5.98,"z":1.51},{"g":"f8","k":"s","x":6.06,"z":0.28},
{"g":"f9","k":"s","x":2.99,"z":0},{"g":"f9","k":"s","x":3.07,"z":0.59},{"g":"f9","k":"s","x":3.24,"z":1.2},{"g":"f9","k":"s","x":3.44,"z":1.57},{"g":"f9","k":"s","x":3.75,"z":1.82},{"g":"f9","k":"s","x":4.06,"z":1.91},{"g":"f9","k":"s","x":4.27,"z":1.82},{"g":"f9","k":"s","x":4.37,"z":1.36},{"g":"f9","k":"s","x":4.41,"z":0.59},{"g":"f9","k":"s","x":4.43,"z":0},
{"g":"f10","k":"s","x":8.33,"z":7.28},{"g":"f10","k":"s","x":8.29,"z":7.0},{"g":"f10","k":"s","x":8.31,"z":6.05},{"g":"f10","k":"s","x":8.45,"z":4.81},{"g":"f10","k":"s","x":8.8,"z":3.67},{"g":"f10","k":"s","x":9.18,"z":2.68},{"g":"f10","k":"s","x":9.28,"z":2.75},{"g":"f10","k":"s","x":9.24,"z":3.58},{"g":"f10","k":"s","x":9.01,"z":4.81},{"g":"f10","k":"s","x":8.74,"z":6.05},{"g":"f10","k":"s","x":8.49,"z":7.13},{"g":"f10","k":"s","x":8.39,"z":7.31},{"g":"f10","k":"s","x":8.33,"z":7.28},
{"g":"f11","k":"s","x":11.63,"z":0.02},{"g":"f11","k":"s","x":11.67,"z":0.59},{"g":"f11","k":"s","x":11.75,"z":1.05},{"g":"f11","k":"s","x":11.86,"z":1.26},{"g":"f11","k":"s","x":12,"z":1.36},
{"g":"g1","k":"d","x":6.37,"z":0.52},{"g":"g1","k":"d","x":6.25,"z":2.13},{"g":"g1","k":"d","x":6.19,"z":4.38},{"g":"g1","k":"d","x":6.23,"z":5.83},{"g":"g1","k":"d","x":6.33,"z":6.85},{"g":"g1","k":"d","x":6.47,"z":7.37},{"g":"g1","k":"d","x":6.7,"z":7.59},{"g":"g1","k":"d","x":7.01,"z":7.28},{"g":"g1","k":"d","x":7.26,"z":6.6},{"g":"g1","k":"d","x":7.42,"z":5.68},{"g":"g1","k":"d","x":7.57,"z":4.81},{"g":"g1","k":"d","x":7.67,"z":3.83},{"g":"g1","k":"d","x":7.75,"z":2.75},{"g":"g1","k":"d","x":7.81,"z":1.91},
{"g":"g2","k":"d","x":6.58,"z":0.68},{"g":"g2","k":"d","x":6.54,"z":2.75},{"g":"g2","k":"d","x":6.54,"z":4.38},{"g":"g2","k":"d","x":6.6,"z":5.21},{"g":"g2","k":"d","x":6.74,"z":5.68},{"g":"g2","k":"d","x":6.89,"z":5.83},{"g":"g2","k":"d","x":7.05,"z":5.68},{"g":"g2","k":"d","x":7.22,"z":5.21},{"g":"g2","k":"d","x":7.32,"z":4.38},{"g":"g2","k":"d","x":7.36,"z":3.05},{"g":"g2","k":"d","x":7.38,"z":1.67},
{"g":"g3","k":"d","x":6.78,"z":0.89},{"g":"g3","k":"d","x":6.85,"z":1.67},{"g":"g3","k":"d","x":6.91,"z":2.34},{"g":"g3","k":"d","x":6.97,"z":1.82},{"g":"g3","k":"d","x":7.03,"z":1.2}
]
},
"concat": [
{"width": 582, "height": 391,
 "layer": [
  {"data": {"name": "a"}, "mark": {"type": "line", "interpolate": "catmull-rom", "clip": true, "color": "#111", "strokeWidth": 1.2},
   "encoding": {
    "x": {"field": "x", "type": "quantitative", "scale": {"domain": [0, 12], "nice": false, "zero": false}, "axis": {"orient": "bottom", "values": [1,2,3,4,5,6,7,8,9,10,11], "tickSize": -7, "title": "X", "titleFont": "Liberation Serif", "titleFontSize": 21, "titleFontWeight": "normal", "titleColor": "#111", "titlePadding": 23}},
    "y": {"field": "z", "type": "quantitative", "scale": {"domain": [0, 12], "nice": false, "zero": false}, "axis": {"orient": "left", "values": [4, 8], "tickSize": -7, "title": "Z", "titleFont": "Liberation Serif", "titleFontSize": 21, "titleFontWeight": "normal", "titleColor": "#111", "titleAngle": 0, "titleX": -15, "titleY": 199, "titleAlign": "center", "titleBaseline": "middle"}},
    "detail": {"field": "g", "type": "nominal"},
    "order": {"value": null},
    "strokeDash": {"field": "k", "type": "nominal", "scale": {"domain": ["s", "d", "i"], "range": [[1, 0], [2.5, 2], [3, 2]]}, "legend": null}
   }},
  {"data": {"name": "mtn"}, "mark": {"type": "line", "interpolate": "monotone", "clip": false, "color": "#111", "strokeWidth": 3.5},
   "encoding": {
    "x": {"field": "x", "type": "quantitative", "axis": {"orient": "top", "values": [1,2,3,4,5,6,7,8,9,10,11], "tickSize": -7, "title": "∂w/∂z y=0 t= 0", "titleX": 35, "titleY": -63, "titleAlign": "left", "titleBaseline": "alphabetic", "titleAngle": 0, "titleFont": "DejaVu Sans Mono", "titleFontSize": 30, "titleFontWeight": "normal", "titleColor": "#1a1a1a"}},
    "y": {"field": "z", "type": "quantitative", "axis": {"orient": "right", "values": [4, 8], "tickSize": -7, "title": null}}
   }}
 ],
 "resolve": {"axis": {"x": "independent", "y": "independent"}}
},
{"width": 578, "height": 391,
 "layer": [
  {"data": {"name": "b"}, "mark": {"type": "line", "interpolate": "catmull-rom", "clip": true, "color": "#111", "strokeWidth": 1.2},
   "encoding": {
    "x": {"field": "x", "type": "quantitative", "scale": {"domain": [0, 11.92], "nice": false, "zero": false}, "axis": {"orient": "bottom", "values": [1,2,3,4,5,6,7,8,9,10,11], "tickSize": -7, "title": "X", "titleFont": "Liberation Serif", "titleFontSize": 21, "titleFontWeight": "normal", "titleColor": "#111", "titlePadding": 23}},
    "y": {"field": "z", "type": "quantitative", "scale": {"domain": [0, 12], "nice": false, "zero": false}, "axis": {"orient": "left", "values": [4, 8], "tickSize": -7, "title": "Z", "titleFont": "Liberation Serif", "titleFontSize": 21, "titleFontWeight": "normal", "titleColor": "#111", "titleAngle": 0, "titleX": -15, "titleY": 199, "titleAlign": "center", "titleBaseline": "middle"}},
    "detail": {"field": "g", "type": "nominal"},
    "order": {"value": null},
    "strokeDash": {"field": "k", "type": "nominal", "scale": {"domain": ["s", "d", "i"], "range": [[1, 0], [2.5, 2], [3, 2]]}, "legend": null}
   }},
  {"data": {"name": "mtn"}, "mark": {"type": "line", "interpolate": "monotone", "clip": true, "color": "#111", "strokeWidth": 3.5},
   "encoding": {
    "x": {"field": "x", "type": "quantitative", "axis": {"orient": "top", "values": [1,2,3,4,5,6,7,8,9,10,11], "tickSize": -7, "title": "∂w/∂z y=0 t=60", "titleX": 37, "titleY": -63, "titleAlign": "left", "titleBaseline": "alphabetic", "titleAngle": 0, "titleFont": "DejaVu Sans Mono", "titleFontSize": 30, "titleFontWeight": "normal", "titleColor": "#1a1a1a"}},
    "y": {"field": "z", "type": "quantitative", "axis": {"orient": "right", "values": [4, 8], "tickSize": -7, "title": null, "domain": false}}
   }}
 ],
 "resolve": {"axis": {"x": "independent", "y": "independent"}}
},
{"width": 582, "height": 389,
 "layer": [
  {"data": {"name": "c"}, "mark": {"type": "line", "interpolate": "catmull-rom", "clip": true, "color": "#111", "strokeWidth": 1.2},
   "encoding": {
    "x": {"field": "x", "type": "quantitative", "scale": {"domain": [0, 12], "nice": false, "zero": false}, "axis": {"orient": "bottom", "values": [1,2,3,4,5,6,7,8,9,10,11], "tickSize": -7, "title": "X", "titleFont": "Liberation Serif", "titleFontSize": 21, "titleFontWeight": "normal", "titleColor": "#111", "titlePadding": 23}},
    "y": {"field": "z", "type": "quantitative", "scale": {"domain": [0, 12], "nice": false, "zero": false}, "axis": {"orient": "left", "values": [4, 8], "tickSize": -7, "title": "Z", "titleFont": "Liberation Serif", "titleFontSize": 21, "titleFontWeight": "normal", "titleColor": "#111", "titleAngle": 0, "titleX": -15, "titleY": 200, "titleAlign": "center", "titleBaseline": "middle"}},
    "detail": {"field": "g", "type": "nominal"},
    "order": {"value": null},
    "strokeDash": {"field": "k", "type": "nominal", "scale": {"domain": ["s", "d", "i"], "range": [[1, 0], [2.5, 2], [3, 2]]}, "legend": null}
   }},
  {"data": {"name": "mtn"}, "mark": {"type": "line", "interpolate": "monotone", "clip": false, "color": "#111", "strokeWidth": 3.5},
   "encoding": {
    "x": {"field": "x", "type": "quantitative", "axis": {"orient": "top", "values": [1,2,3,4,5,6,7,8,9,10,11], "tickSize": -7, "title": "∂w/∂z y=0 t=80", "titleX": 35, "titleY": -62, "titleAlign": "left", "titleBaseline": "alphabetic", "titleAngle": 0, "titleFont": "DejaVu Sans Mono", "titleFontSize": 30, "titleFontWeight": "normal", "titleColor": "#1a1a1a"}},
    "y": {"field": "z", "type": "quantitative", "axis": {"orient": "right", "values": [4, 8], "tickSize": -7, "title": null}}
   }}
 ],
 "resolve": {"axis": {"x": "independent", "y": "independent"}}
},
{"width": 578, "height": 389,
 "data": {"name": "cap"},
 "mark": {"type": "text", "align": "left", "baseline": "alphabetic", "font": "Liberation Serif", "fontSize": 18, "color": "#111", "dx": -23, "limit": 601, "ellipsis": "\u200b"},
 "encoding": {
  "x": {"datum": 0, "type": "quantitative", "scale": {"domain": [0, 1]}, "axis": null},
  "y": {"field": "line", "type": "quantitative", "scale": {"domain": [-6.268, 12.707], "reverse": true}, "axis": null},
  "text": {"field": "text"}
 }
}
]
}
